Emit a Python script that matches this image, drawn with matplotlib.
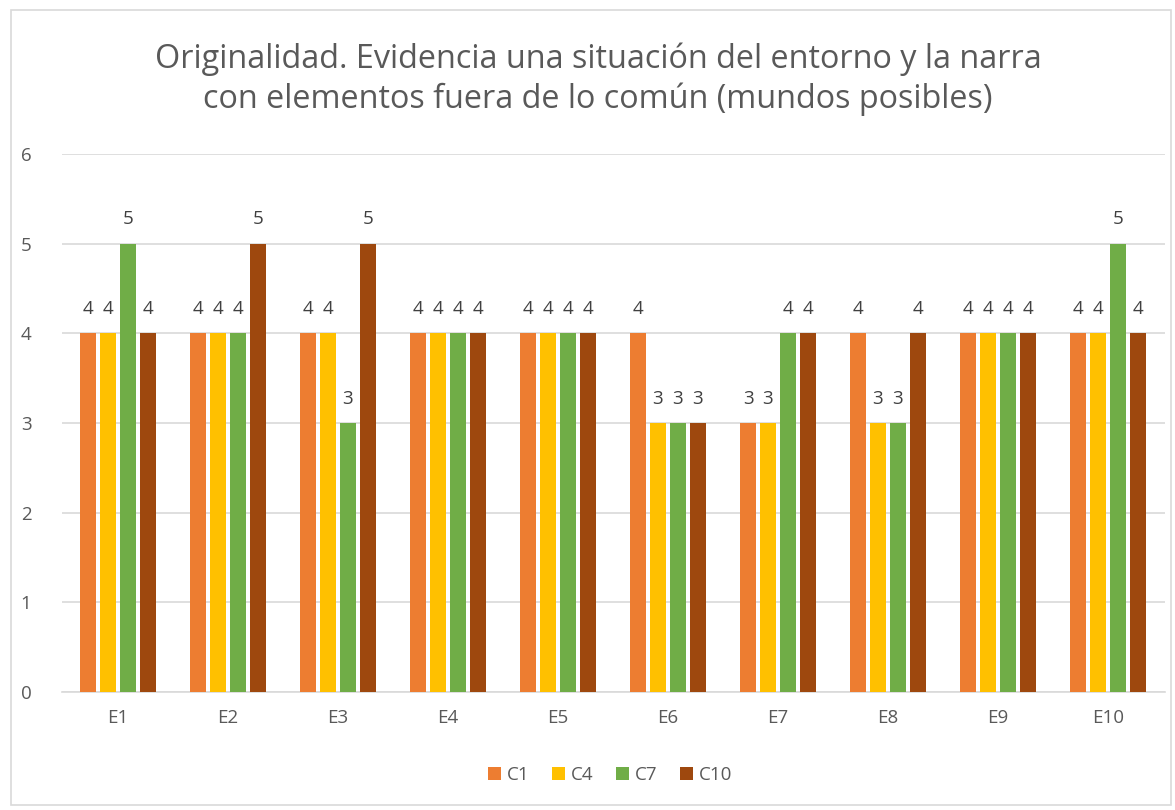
import matplotlib.pyplot as plt
from matplotlib.patches import Rectangle
import numpy as np

categories = ["E1", "E2", "E3", "E4", "E5", "E6", "E7", "E8", "E9", "E10"]
series_names = ["C1", "C4", "C7", "C10"]
c1 = [4, 4, 4, 4, 4, 4, 3, 4, 4, 4]
c4 = [4, 4, 4, 4, 4, 3, 3, 3, 4, 4]
c7 = [5, 4, 3, 4, 4, 3, 4, 3, 4, 5]
c10 = [4, 5, 5, 4, 4, 3, 4, 4, 4, 4]
colors = ["#ED7D31", "#FFC000", "#70AD47", "#9E480E"]
title = "Originalidad. Evidencia una situación del entorno y la narra\ncon elementos fuera de lo común (mundos posibles)"

plt.rcParams['font.family'] = ['Open Sans', 'DejaVu Sans']
txt = "#595959"

fig = plt.figure(figsize=(11.75, 8.1), dpi=100)
ax = fig.add_axes([62 / 1175, 1 - 692 / 810, 1103 / 1175, 538 / 810])

# chart border
fig.patches.append(Rectangle((11 / 1175, 1 - 805 / 810), 1160 / 1175, 795 / 810,
                             transform=fig.transFigure, fill=False,
                             edgecolor="#D9D9D9", linewidth=1.2))

x = np.arange(len(categories))
pitch = 0.181
width = 0.143
for i, (name, vals) in enumerate(zip(series_names, [c1, c4, c7, c10])):
    pos = x + (i - 1.5) * pitch
    bars = ax.bar(pos, vals, width, color=colors[i], label=name, zorder=3)
    for b, v in zip(bars, vals):
        ax.text(b.get_x() + b.get_width() / 2, v + 0.17, str(v),
                ha="center", va="bottom", fontsize=13.5, color="#404040")

ax.set_xlim(-0.51, 9.52)
ax.set_ylim(0, 6)
ax.set_yticks(range(7))
ax.set_xticks(x)
ax.set_xticklabels(categories)
ax.tick_params(axis="both", length=0, labelsize=13.5, colors=txt)
ax.tick_params(axis="x", pad=12)
ax.tick_params(axis="y", pad=22)
ax.grid(axis="y", color="#D9D9D9", linewidth=1.2, zorder=0)
for s in ["top", "right", "left"]:
    ax.spines[s].set_visible(False)
ax.spines["bottom"].set_color("#D9D9D9")
ax.spines["bottom"].set_linewidth(1.2)

fig.text(598 / 1175, 1 - 79 / 810, title, ha="center", va="center",
         fontsize=23.3, color=txt, linespacing=1.25)

fig.legend(loc="center", bbox_to_anchor=(610 / 1175, 1 - 775 / 810), ncol=4,
           frameon=False, fontsize=13.5, handlelength=0.7, handleheight=0.7,
           handletextpad=0.3, columnspacing=1.2, labelcolor=txt)

fig.savefig("out.png", dpi=100)
